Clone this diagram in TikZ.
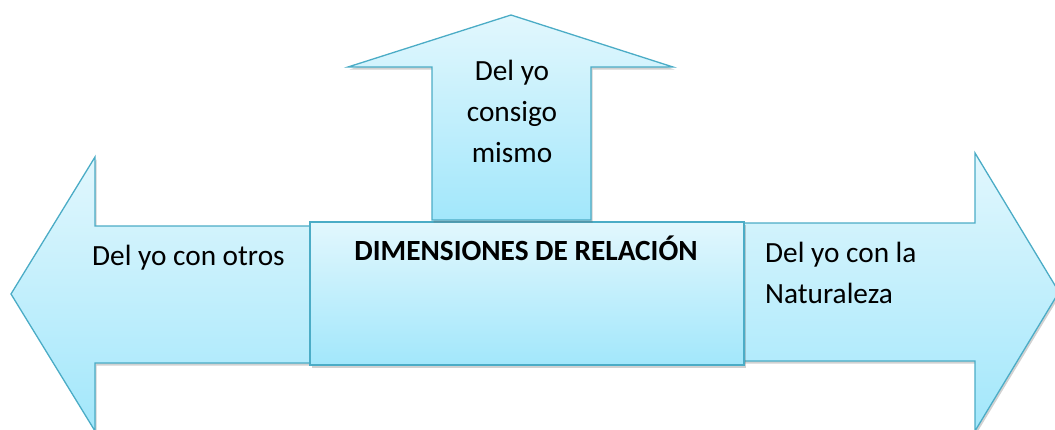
\documentclass[tikz,border=0pt]{standalone}
\usepackage{fontspec}
\setmainfont{Carlito}
\usetikzlibrary{shadows}
\definecolor{edge}{HTML}{4BACC6}
\definecolor{topc}{HTML}{E2F7FD}
\definecolor{botc}{HTML}{A2E7FB}
\tikzset{
  shape3d/.style={draw=edge, line width=1.3pt, line join=miter, top color=topc, bottom color=botc,
    drop shadow={shadow xshift=1.5pt, shadow yshift=-2.5pt, opacity=0.3, fill=black!60}},
  lbl/.style={inner sep=0pt, font=\fontsize{29.3}{34}\selectfont},
}
\begin{document}
\begin{tikzpicture}[x=1pt, y=-1pt]
\useasboundingbox (0,0) rectangle (1055,429);
\clip (0,0) rectangle (1055,429);
% left arrow
\path[shape3d] (11,294) -- (95,157) -- (95,226) -- (330,226) -- (330,363) -- (95,363) -- (95,431) -- cycle;
% right arrow
\path[shape3d] (1059,292) -- (975,153) -- (975,223) -- (730,223) -- (730,361) -- (975,361) -- (975,431) -- cycle;
% centre box
\path[shape3d] (310,222) rectangle (744,365);
% up arrow
\path[shape3d] (511,15) -- (673,67) -- (591,67) -- (591,220) -- (432,220) -- (432,67) -- (348,67) -- cycle;
% texts
\node[lbl, anchor=base west] (otros) at (92,265) {Del yo con otros};
\node[lbl, anchor=base west] (nat1) at (765,262) {Del yo con la};
\node[lbl, anchor=base west] (nat2) at (765,303) {Naturaleza};
\node[lbl, anchor=base] (mis1) at (512,80) {Del yo};
\node[lbl, anchor=base] (mis2) at (512,121) {consigo};
\node[lbl, anchor=base] (mis3) at (512,162) {mismo};
\node[lbl, anchor=base, font=\fontsize{29.3}{34}\selectfont\bfseries] (dim) at (526,260) {DIMENSIONES DE RELACIÓN};
\end{tikzpicture}
\end{document}
